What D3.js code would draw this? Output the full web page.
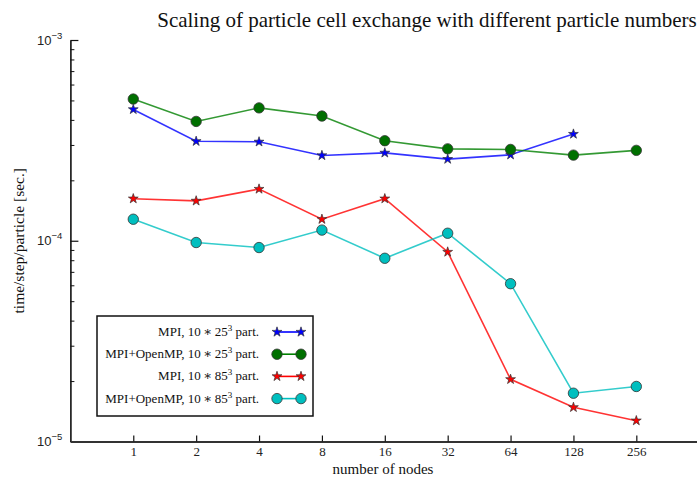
<!DOCTYPE html>
<html>
<head>
<meta charset="utf-8">
<script src="https://cdn.jsdelivr.net/npm/d3@7"></script>
<style>
	body { margin: 0; background: white; }
	svg { display: block; font-family: "Liberation Serif", "DejaVu Serif", serif; }
</style>
</head>
<body>
<main></main>
<script>

// DATA
const nodes = [1, 2, 4, 8, 16, 32, 64, 128, 256];
const mpi25 = [4.51e-4, 3.13e-4, 3.11e-4, 2.66e-4, 2.74e-4, 2.55e-4, 2.68e-4, 3.40e-4];
const hybrid25 = [5.08e-4, 3.93e-4, 4.59e-4, 4.18e-4, 3.15e-4, 2.87e-4, 2.85e-4, 2.67e-4, 2.82e-4];
const mpi85 = [1.62e-4, 1.58e-4, 1.81e-4, 1.28e-4, 1.62e-4, 8.79e-5, 2.04e-5, 1.48e-5, 1.27e-5];
const hybrid85 = [1.28e-4, 9.8e-5, 9.25e-5, 1.13e-4, 8.18e-5, 1.09e-4, 6.11e-5, 1.74e-5, 1.88e-5];
const yMajor = [1e-5, 1e-4, 1e-3];
const yExponents = ["−5", "−4", "−3"];

const series = [
	{ label: ["MPI, 10\u2009∗\u200925", "3", " part."], values: mpi25, color: "#0000ff", marker: "star" },
	{ label: ["MPI+OpenMP, 10\u2009∗\u200925", "3", " part."], values: hybrid25, color: "#008000", marker: "circle" },
	{ label: ["MPI, 10\u2009∗\u200985", "3", " part."], values: mpi85, color: "#ff0000", marker: "star" },
	{ label: ["MPI+OpenMP, 10\u2009∗\u200985", "3", " part."], values: hybrid85, color: "#00bfbf", marker: "circle" }
];

// CHART
const w = 697;
const h = 477;
const padLeft = 70.4;
const padTop = 40;
const padBottom = 441.5;

const svg = d3.select("main").append("svg")
	.attr("width", w)
	.attr("height", h);

// scales
const xScale = d3.scaleLog().base(2)
	.domain([0.5, 512])
	.range([padLeft, padLeft + 62.88 * 10]);
const yScale = d3.scaleLog()
	.domain([1e-5, 1e-3])
	.range([padBottom, padTop]);

// minor y ticks
const yMinor = [];
[1e-5, 1e-4].forEach(d => { for (let k = 2; k < 10; k++) yMinor.push(d * k); });

svg.append("g")
	.attr("transform", `translate(${padLeft},0)`)
	.call(d3.axisLeft(yScale).tickValues(yMinor).tickSize(-4).tickFormat(""))
	.call(g => g.select(".domain").remove())
	.call(g => g.selectAll("line").attr("stroke", "#111").attr("stroke-width", 1));

const yAxis = svg.append("g")
	.attr("transform", `translate(${padLeft},0)`)
	.call(d3.axisLeft(yScale).tickValues(yMajor).tickSize(-8).tickSizeOuter(0).tickFormat(""));
yAxis.select(".domain").attr("stroke", "#111").attr("stroke-width", 1.6);
yAxis.selectAll("line").attr("stroke", "#111").attr("stroke-width", 1.2);
yAxis.selectAll(".tick").each(function(d, i) {
	const t = d3.select(this).append("text")
		.attr("x", -8)
		.attr("y", 4)
		.attr("fill", "#222")
		.attr("text-anchor", "end")
		.style("font-size", "13px");
	t.append("tspan").text("10");
	t.append("tspan").attr("dy", -6).style("font-size", "9.5px").text(yExponents[i]);
});

// x axis
const xAxis = svg.append("g")
	.attr("transform", `translate(0,${padBottom})`)
	.call(d3.axisBottom(xScale).tickValues(nodes).tickSize(-6).tickSizeOuter(0).tickPadding(5).tickFormat(d3.format("d")));
xAxis.select(".domain").attr("stroke", "#333").attr("stroke-width", 1.8);
xAxis.selectAll("line").attr("stroke", "#111").attr("stroke-width", 1.2);
xAxis.selectAll("text")
	.attr("fill", "#222")
	.style("font-family", "Liberation Serif")
	.style("font-size", "13px");

// labels
svg.append("text")
	.attr("x", 427)
	.attr("y", 27)
	.attr("text-anchor", "middle")
	.attr("fill", "#111")
	.style("font-size", "21px")
	.text("Scaling of particle cell exchange with different particle numbers");

svg.append("text")
	.attr("x", 383)
	.attr("y", 474)
	.attr("text-anchor", "middle")
	.attr("fill", "#111")
	.style("font-size", "15px")
	.text("number of nodes");

svg.append("text")
	.attr("transform", `translate(24,${(padTop + padBottom) / 2}) rotate(-90)`)
	.attr("text-anchor", "middle")
	.attr("fill", "#111")
	.style("font-size", "15.5px")
	.text("time/step/particle [sec.]");

// lines and markers
const line = d3.line()
	.x((d, i) => xScale(nodes[i]))
	.y(d => yScale(d));
const star = d3.symbol().type(d3.symbolStar).size(30);

const drawMarker = (sel, s) => {
	if (s.marker === "star") {
		sel.append("path").attr("d", star)
			.attr("fill", s.color).attr("stroke", "#333").attr("stroke-width", 0.7);
	} else {
		sel.append("circle").attr("r", 5.2)
			.attr("fill", s.color === "#008000" ? "#007000" : s.color)
			.attr("stroke", "#333").attr("stroke-width", 0.8);
	}
};

series.forEach(s => {
	svg.append("path")
		.datum(s.values)
		.attr("d", line)
		.attr("fill", "none")
		.attr("stroke", s.color)
		.attr("stroke-width", 1.6)
		.attr("opacity", 0.8);
	svg.selectAll(null)
		.data(s.values)
		.enter()
		.append("g")
			.attr("transform", (d, i) => `translate(${xScale(nodes[i])},${yScale(d)})`)
			.each(function() { drawMarker(d3.select(this), s); });
});

// legend
const legend = svg.append("g");
legend.append("rect")
	.attr("x", 97)
	.attr("y", 316)
	.attr("width", 216)
	.attr("height", 100)
	.attr("fill", "white")
	.attr("stroke", "#111")
	.attr("stroke-width", 1.5);
series.forEach((s, i) => {
	const y = 332 + i * 22.2;
	const t = legend.append("text")
		.attr("x", 259)
		.attr("y", y + 4)
		.attr("text-anchor", "end")
		.attr("fill", "#111")
		.style("font-size", "13px");
	t.append("tspan").text(s.label[0]);
	t.append("tspan").attr("dy", -5).style("font-size", "9px").text(s.label[1]);
	t.append("tspan").attr("dy", 5).text(s.label[2]);
	legend.append("line")
		.attr("x1", 277).attr("x2", 301)
		.attr("y1", y).attr("y2", y)
		.attr("stroke", s.color)
		.attr("stroke-width", 1.6);
	[277, 301].forEach(x => {
		drawMarker(legend.append("g").attr("transform", `translate(${x},${y})`), s);
	});
});

</script>
</body>
</html>
